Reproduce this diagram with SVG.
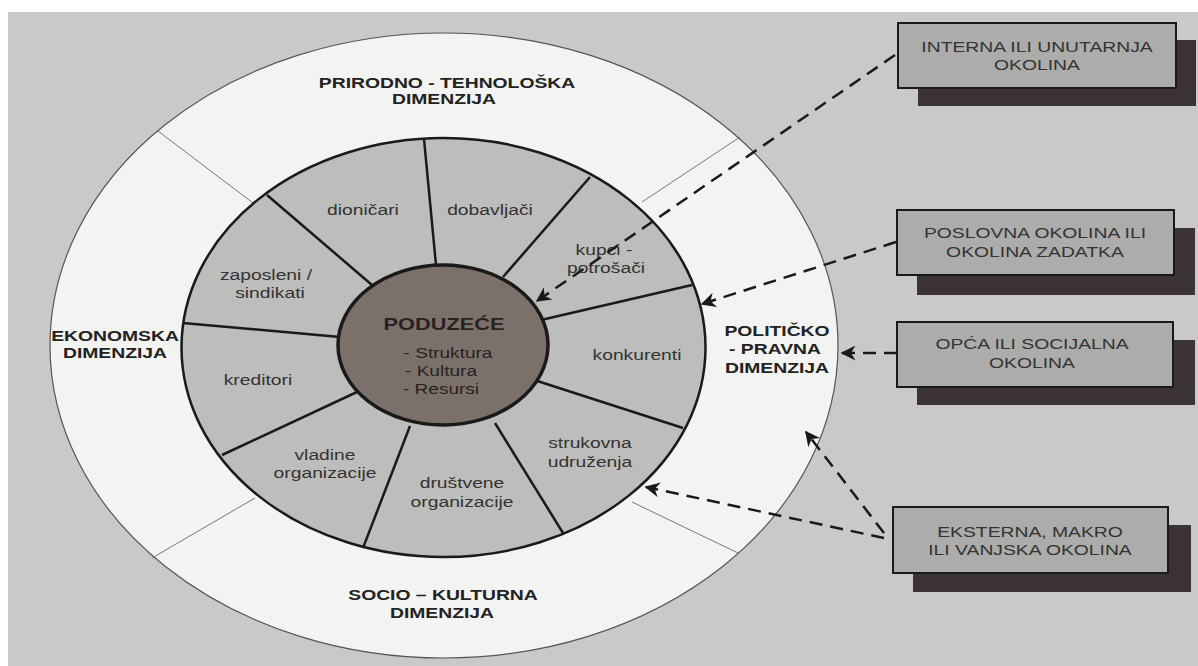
<svg xmlns="http://www.w3.org/2000/svg" width="1198" height="666" viewBox="0 0 1198 666">
<style>
text{font-family:"Liberation Sans",Arial,sans-serif;text-anchor:middle}
.seg{font-size:14.5px;fill:#333}
.dim{font-size:14px;font-weight:bold;fill:#222}
.ctr{font-size:14px;fill:#2a2222}
.box{fill:#acacaa;stroke:#1a1a1a;stroke-width:2}
.shadow{fill:#3b3334}
.boxt{font-size:14px;fill:#333}
.div{stroke:#1a1a1a;stroke-width:2.5;fill:none}
.thin{stroke:#777;stroke-width:1;fill:none}
.dash{stroke:#1a1a1a;stroke-width:2.5;stroke-dasharray:13 8;fill:none}
</style>
<defs>
<marker id="ah" viewBox="0 0 10 10" refX="9" refY="5" markerWidth="7" markerHeight="6" markerUnits="strokeWidth" orient="auto">
<path d="M0,0 L10,5 L0,10 L3,5 Z" fill="#1a1a1a"/>
</marker>
</defs>
<rect x="0" y="0" width="1198" height="666" fill="#ffffff"/>
<rect x="8" y="12" width="1190" height="654" fill="#c9c9c7"/>
<g id="outer-ring">
<ellipse cx="444" cy="345.5" rx="394" ry="312.5" fill="#f3f3f1" stroke="#555" stroke-width="1.2"/>
<line class="thin" x1="158" y1="131" x2="253" y2="203"/>
<line class="thin" x1="740" y1="137" x2="642" y2="202"/>
<line class="thin" x1="152" y1="558" x2="255" y2="498"/>
<line class="thin" x1="738" y1="553" x2="632" y2="502"/>
</g>
<g id="inner-ring">
<ellipse cx="443.5" cy="347.5" rx="262" ry="209.5" fill="#bdbdbb" stroke="#1a1a1a" stroke-width="2.5"/>
<line class="div" x1="424" y1="139" x2="436" y2="265"/>
<line class="div" x1="590" y1="177" x2="503" y2="277"/>
<line class="div" x1="267" y1="195" x2="372" y2="285"/>
<line class="div" x1="183" y1="323" x2="340" y2="337"/>
<line class="div" x1="692" y1="285" x2="541" y2="320"/>
<line class="div" x1="683" y1="428" x2="528" y2="378"/>
<line class="div" x1="495" y1="423" x2="563" y2="533"/>
<line class="div" x1="410" y1="426" x2="363" y2="548"/>
<line class="div" x1="222" y1="455" x2="357" y2="392"/>
</g>
<g id="center">
<ellipse cx="443" cy="345" rx="105" ry="80" fill="#7b716a" stroke="#1a1a1a" stroke-width="3.5"/>
<text transform="translate(444,330) scale(1.36,1)" class="dim" style="font-size:16px;fill:#2a2222">PODUZEĆE</text>
<text transform="translate(448,358) scale(1.36,1)" class="ctr">- Struktura</text>
<text transform="translate(441,376) scale(1.36,1)" class="ctr">- Kultura</text>
<text transform="translate(441,394) scale(1.36,1)" class="ctr">- Resursi</text>
</g>
<g id="segments">
<text transform="translate(363,215) scale(1.33,1)" class="seg">dioničari</text>
<text transform="translate(490,215) scale(1.33,1)" class="seg">dobavljači</text>
<text transform="translate(604,255) scale(1.33,1)" class="seg">kupci -</text>
<text transform="translate(606,273) scale(1.33,1)" class="seg">potrošači</text>
<text transform="translate(266,280) scale(1.33,1)" class="seg">zaposleni /</text>
<text transform="translate(270,298) scale(1.33,1)" class="seg">sindikati</text>
<text transform="translate(258,385) scale(1.33,1)" class="seg">kreditori</text>
<text transform="translate(637,360) scale(1.33,1)" class="seg">konkurenti</text>
<text transform="translate(590,448) scale(1.33,1)" class="seg">strukovna</text>
<text transform="translate(590,467) scale(1.33,1)" class="seg">udruženja</text>
<text transform="translate(462,488) scale(1.33,1)" class="seg">društvene</text>
<text transform="translate(462,507) scale(1.33,1)" class="seg">organizacije</text>
<text transform="translate(325,460) scale(1.33,1)" class="seg">vladine</text>
<text transform="translate(325,478) scale(1.33,1)" class="seg">organizacije</text>
</g>
<g id="dimensions">
<text transform="translate(447,88) scale(1.38,1)" class="dim">PRIRODNO - TEHNOLOŠKA</text>
<text transform="translate(444,104) scale(1.38,1)" class="dim">DIMENZIJA</text>
<text transform="translate(115,341) scale(1.38,1)" class="dim">EKONOMSKA</text>
<text transform="translate(115,358) scale(1.38,1)" class="dim">DIMENZIJA</text>
<text transform="translate(777,336) scale(1.38,1)" class="dim">POLITIČKO</text>
<text transform="translate(775,354) scale(1.38,1)" class="dim">- PRAVNA</text>
<text transform="translate(777,373) scale(1.38,1)" class="dim">DIMENZIJA</text>
<text transform="translate(443,600) scale(1.38,1)" class="dim">SOCIO – KULTURNA</text>
<text transform="translate(442,618) scale(1.38,1)" class="dim">DIMENZIJA</text>
</g>
<g id="connectors">
<path class="dash" d="M895,55 L537,301" marker-end="url(#ah)"/>
<path class="dash" d="M896,242 L702,304" marker-end="url(#ah)"/>
<path class="dash" d="M897,353 L842,353" marker-end="url(#ah)"/>
<path class="dash" d="M884,533 L806,432" marker-end="url(#ah)"/>
<path class="dash" d="M884,538 L646,487" marker-end="url(#ah)"/>
</g>
<g id="box-interna">
<rect class="shadow" x="918" y="40" width="278" height="66"/>
<rect class="box" x="898" y="23" width="278" height="65"/>
<text transform="translate(1037,52) scale(1.38,1)" class="boxt">INTERNA ILI UNUTARNJA</text>
<text transform="translate(1037,70) scale(1.38,1)" class="boxt">OKOLINA</text>
</g>
<g id="box-poslovna">
<rect class="shadow" x="917" y="228" width="278" height="67"/>
<rect class="box" x="897" y="210" width="277" height="65"/>
<text transform="translate(1035,238) scale(1.38,1)" class="boxt">POSLOVNA OKOLINA ILI</text>
<text transform="translate(1035,257) scale(1.38,1)" class="boxt">OKOLINA ZADATKA</text>
</g>
<g id="box-opca">
<rect class="shadow" x="917" y="340" width="278" height="65"/>
<rect class="box" x="897" y="322" width="276" height="65"/>
<text transform="translate(1032,349) scale(1.38,1)" class="boxt">OPĆA ILI SOCIJALNA</text>
<text transform="translate(1032,368) scale(1.38,1)" class="boxt">OKOLINA</text>
</g>
<g id="box-eksterna">
<rect class="shadow" x="913" y="525" width="278" height="67"/>
<rect class="box" x="893" y="507" width="275" height="66"/>
<text transform="translate(1030,537) scale(1.38,1)" class="boxt">EKSTERNA, MAKRO</text>
<text transform="translate(1030,555) scale(1.38,1)" class="boxt">ILI VANJSKA OKOLINA</text>
</g>
</svg>
